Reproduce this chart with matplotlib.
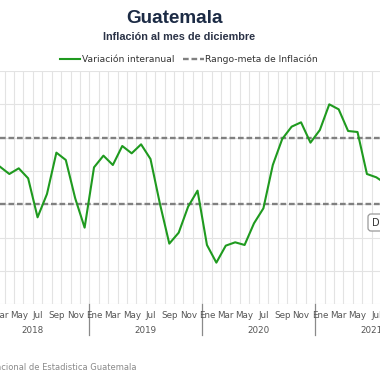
import numpy as np
import matplotlib
matplotlib.use("Agg")
import matplotlib.pyplot as plt
from matplotlib.patches import FancyBboxPatch
from matplotlib.transforms import blended_transform_factory

# datos: variación interanual, marzo 2018 -> agosto 2021
start_month = 2  # marzo 2018 (enero 2018 = 0)
inflacion = [
    4.13, 3.91, 4.08, 3.78, 2.61, 3.31, 4.55, 4.33, 3.18, 2.30,              # 2018
    4.11, 4.46, 4.18, 4.75, 4.53, 4.80, 4.36, 3.02, 1.82, 2.15, 2.93, 3.41,  # 2019
    1.78, 1.25, 1.76, 1.86, 1.78, 2.43, 2.88, 4.18, 4.96, 5.33, 5.46, 4.85,  # 2020
    5.23, 6.00, 5.85, 5.20, 5.17, 3.91, 3.81, 3.62,                          # 2021
]
meta_baja = 3
meta_alta = 5
years = ["2018", "2019", "2020", "2021"]
month_labels = ["Ene", "Mar", "May", "Jul", "Sep", "Nov"]

W, H = 380, 380
fig = plt.figure(figsize=(3.8, 3.8), dpi=100)
# ejes en pixeles: x 0..380, y 71..304.3 (desde arriba)
ax = fig.add_axes([0, (H - 304.3) / H, 1, (304.3 - 71) / H])

x = np.arange(len(inflacion)) + start_month + 0.5

# grilla
for m in range(0, 49):
    ax.axvline(m, color="#e3e3e3", lw=0.8, zorder=0)
for v in range(0, 8):
    ax.axhline(v, color="#e3e3e3", lw=0.8, zorder=0)

ax.axhline(meta_baja, color="#808080", lw=1.7, dashes=(2.4, 1.2), zorder=2)
ax.axhline(meta_alta, color="#808080", lw=1.7, dashes=(2.4, 1.2), zorder=2)
ax.plot(x, inflacion, color="#1f9a1f", lw=1.5, zorder=3)

for s in ax.spines.values():
    s.set_visible(False)
ax.set_yticks([])
ax.set_xticks([])
ax.set_xlim(2.508, 42.89)
ax.set_ylim(0, 7)

# etiquetas de meses y años
trans = blended_transform_factory(ax.transData, ax.transAxes)
for y, yr in enumerate(years):
    for i, lab in enumerate(month_labels):
        ax.text(y * 12 + i * 2 + 0.5, -0.05, lab, transform=trans, ha="center",
                va="center", fontsize=6.3, color="#555555", family="DejaVu Sans",
                clip_on=False)
    if y > 0:
        ax.plot([y * 12, y * 12], [0, -0.131], color="#8a8a8a", lw=0.9,
                transform=trans, clip_on=False)
    ax.text(y * 12 + 6.0, -0.111, yr, transform=trans, ha="center", va="center",
            fontsize=6.3, color="#555555", family="DejaVu Sans", clip_on=False)

# título
fig.text(174.5 / W, 1 - 18.5 / H, "Guatemala", ha="center", va="center",
         fontsize=13.6, fontweight="bold", color="#1c2b45", family="Liberation Sans")
fig.text(178.7 / W, 1 - 36.7 / H, "Inflación al mes de diciembre", ha="center",
         va="center", fontsize=7.8, fontweight="bold", color="#2b3347",
         family="Liberation Sans")

# leyenda
leg = ax.legend(
    [plt.Line2D([], [], color="#1f9a1f", lw=1.5),
     plt.Line2D([], [], color="#808080", lw=1.7, dashes=(2.4, 1.2))],
    ["Variación interanual", "Rango-meta de Inflación"],
    loc="center", bbox_to_anchor=(189 / W, 1 - 59 / H), bbox_transform=fig.transFigure,
    ncol=2, frameon=False, handlelength=2.2, handletextpad=0.2, columnspacing=1.0,
    prop={"family": "DejaVu Sans", "size": 6.6})
for t in leg.get_texts():
    t.set_color("#333333")

# botón recortado
fig.add_artist(FancyBboxPatch((368 / W, 149 / H), 30 / W, 17 / H,
                              boxstyle="round,pad=0,rounding_size=0.008",
                              transform=fig.transFigure, facecolor="white",
                              edgecolor="#999999", lw=0.9))
fig.text(372 / W, 157.5 / H, "D", ha="left", va="center", fontsize=7,
         color="#333333", family="DejaVu Sans")

# fuente
fig.text(137 / W, 1 - 368 / H, "Fuente: Instituto Nacional de Estadistica Guatemala",
         ha="right", va="center", fontsize=6.0, color="#8a8a8a", family="DejaVu Sans")

fig.savefig("out.png", dpi=100)
